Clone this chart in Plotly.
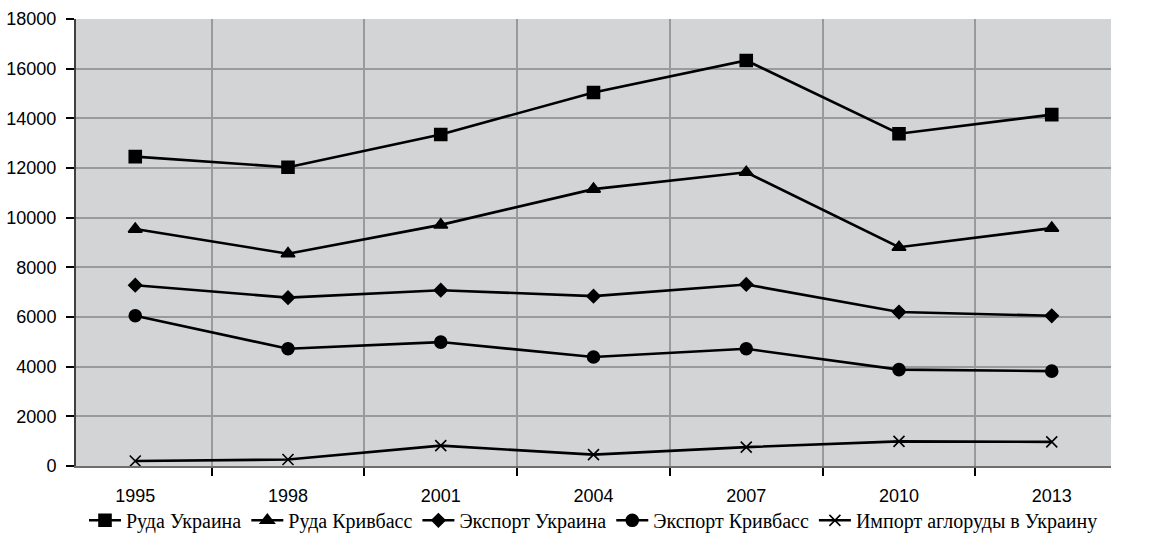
import plotly.graph_objects as go

years = ["1995", "1998", "2001", "2004", "2007", "2010", "2013"]

ruda_ukraina = [12460, 12030, 13350, 15040, 16330, 13380, 14150]
ruda_krivbass = [9540, 8550, 9710, 11150, 11830, 8810, 9580]
export_ukraina = [7280, 6780, 7080, 6840, 7310, 6200, 6050]
export_krivbass = [6050, 4720, 4990, 4390, 4720, 3880, 3820]
import_aglo = [200, 260, 820, 460, 760, 990, 970]

y_ticks = list(range(0, 18001, 2000))

series = [
    ("Руда Украина", ruda_ukraina, "square", 12),
    ("Руда Кривбасс", ruda_krivbass, "triangle-up", 12),
    ("Экспорт Украина", export_ukraina, "diamond", 10),
    ("Экспорт Кривбасс", export_krivbass, "circle", 12),
    ("Импорт аглоруды в Украину", import_aglo, "x-thin-open", 11),
]

fig = go.Figure()
for name, vals, sym, size in series:
    fig.add_trace(go.Scatter(
        x=years, y=vals, name=name, mode="lines+markers",
        line=dict(color="#000000", width=2.6),
        marker=dict(symbol=sym, size=size, color="#000000",
                    line=dict(color="#000000", width=1.6)),
    ))

fig.update_layout(
    width=1151, height=542,
    margin=dict(l=76, r=40, t=19, b=76),
    paper_bgcolor="#ffffff",
    plot_bgcolor="#D3D4D6",
    font=dict(family="Liberation Sans, Arial, sans-serif", size=18, color="#000000"),
    showlegend=True,
    legend=dict(
        orientation="h", x=0.5, xanchor="center",
        yref="container", y=0.04, yanchor="middle",
        font=dict(family="Liberation Serif, Times New Roman, serif", size=20, color="#000000"),
        itemwidth=32, tracegroupgap=0, bgcolor="rgba(0,0,0,0)",
    ),
)

fig.update_xaxes(
    type="category", tickson="boundaries",
    showgrid=True, gridcolor="#9A9A9A", gridwidth=1.5,
    showline=True, linecolor="#6E6E6E", linewidth=2,
    ticks="outside", ticklen=8, tickcolor="#000000", tickwidth=1.5,
    ticklabelstandoff=12, automargin=False,
    mirror=False, zeroline=False,
)
fig.update_yaxes(
    range=[0, 18000], tickvals=y_ticks, ticktext=[str(v) for v in y_ticks],
    showgrid=True, gridcolor="#9A9A9A", gridwidth=1.5,
    showline=True, linecolor="#404040", linewidth=2,
    ticks="outside", ticklen=8, tickcolor="#000000", tickwidth=1.5,
    ticklabelstandoff=6, automargin=False, zeroline=False,
)

fig.write_html("out.html")
